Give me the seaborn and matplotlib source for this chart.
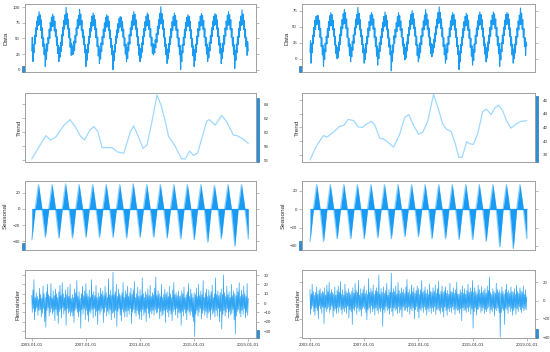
import numpy as np
import pandas as pd
import matplotlib
matplotlib.use("Agg")
import matplotlib.pyplot as plt
import matplotlib.transforms as mtransforms
from matplotlib.patches import Rectangle
import seaborn as sns

# ---- data (half-monthly samples, low/high sides alternate) ----
data_left_rows = [
    [30, 52, 13, 40, 27, 55, 41, 67, 53, 78, 64, 85, 71, 93, 72, 88, 63, 80, 50, 67, 37, 51, 24, 41],
    [5, 33, 16, 42, 30, 52, 42, 65, 50, 76, 62, 84, 69, 89, 70, 86, 62, 78, 53, 65, 39, 53, 26, 39],
    [13, 36, 20, 44, 29, 56, 39, 68, 54, 79, 65, 88, 72, 100, 73, 90, 65, 81, 51, 66, 36, 50, 23, 42],
    [24, 38, 25, 46, 31, 55, 43, 67, 55, 80, 66, 87, 71, 97, 72, 89, 63, 79, 52, 64, 40, 54, 27, 40],
    [5, 32, 15, 41, 27, 53, 41, 66, 52, 76, 62, 86, 70, 91, 71, 87, 64, 80, 51, 66, 37, 52, 22, 38],
    [10, 33, 17, 43, 29, 53, 40, 65, 51, 75, 61, 84, 68, 88, 69, 86, 63, 78, 50, 64, 36, 50, 24, 39],
    [0, 30, 14, 40, 28, 54, 42, 64, 51, 74, 60, 82, 67, 85, 69, 84, 62, 77, 52, 65, 38, 51, 25, 41],
    [13, 35, 18, 44, 30, 56, 41, 67, 54, 78, 64, 87, 71, 93, 72, 89, 65, 80, 53, 67, 39, 53, 23, 40],
    [13, 34, 19, 43, 28, 54, 40, 66, 53, 77, 63, 86, 70, 91, 71, 88, 64, 79, 52, 66, 38, 52, 26, 42],
    [24, 40, 27, 48, 35, 58, 44, 69, 56, 80, 66, 90, 73, 101, 74, 90, 65, 80, 52, 66, 37, 51, 24, 40],
    [10, 33, 17, 42, 28, 53, 40, 66, 52, 77, 63, 85, 70, 91, 71, 87, 63, 79, 51, 65, 37, 51, 24, 39],
    [0, 30, 13, 40, 27, 52, 39, 65, 51, 76, 62, 84, 69, 88, 70, 86, 62, 78, 50, 64, 36, 50, 22, 38],
    [5, 32, 15, 41, 28, 54, 41, 66, 53, 77, 63, 86, 70, 90, 71, 87, 64, 79, 52, 66, 38, 52, 25, 41],
    [13, 35, 19, 44, 30, 55, 42, 67, 53, 78, 64, 86, 71, 90, 72, 88, 65, 80, 53, 67, 39, 53, 26, 42],
    [10, 34, 18, 43, 29, 55, 41, 67, 54, 78, 64, 87, 71, 93, 72, 88, 64, 80, 52, 66, 38, 52, 24, 40],
    [2, 31, 15, 41, 27, 53, 40, 66, 52, 77, 63, 86, 71, 96, 72, 89, 64, 79, 51, 65, 37, 51, 23, 45],
]
data_left_last = 30

data_right_rows = [
    [10, 28, -7, 24, 9, 37, 23, 49, 35, 60, 46, 66, 53, 68, 54, 67, 45, 60, 33, 47, 19, 33, 6, 21],
    [-12, 15, -1, 24, 11, 35, 23, 47, 33, 58, 44, 67, 51, 72, 52, 69, 45, 60, 35, 47, 21, 35, 8, 21],
    [0, 18, 2, 26, 12, 38, 22, 50, 36, 61, 47, 70, 54, 77, 55, 72, 47, 62, 33, 48, 19, 32, 5, 23],
    [-5, 17, 3, 27, 13, 37, 24, 49, 37, 62, 48, 69, 53, 80, 54, 71, 45, 61, 34, 46, 22, 36, 9, 22],
    [-7, 15, -1, 24, 9, 35, 23, 48, 34, 58, 44, 68, 52, 72, 53, 69, 46, 62, 33, 48, 19, 34, 4, 20],
    [-10, 15, 0, 25, 11, 35, 22, 47, 33, 57, 43, 66, 50, 73, 51, 68, 45, 60, 32, 46, 18, 32, 6, 21],
    [-19, 12, -4, 22, 10, 36, 24, 46, 33, 56, 42, 66, 50, 72, 51, 67, 44, 59, 34, 47, 20, 33, 7, 23],
    [-2, 17, 1, 26, 12, 38, 23, 49, 36, 60, 46, 69, 53, 75, 54, 71, 47, 62, 35, 49, 21, 35, 5, 22],
    [-5, 16, 1, 25, 10, 36, 22, 48, 35, 59, 45, 68, 52, 77, 53, 70, 46, 61, 34, 48, 20, 34, 8, 24],
    [3, 22, 9, 30, 17, 40, 26, 51, 38, 62, 48, 72, 55, 81, 56, 72, 47, 62, 34, 48, 19, 33, 6, 22],
    [-7, 15, -1, 24, 10, 35, 22, 48, 34, 59, 45, 67, 52, 72, 53, 69, 45, 61, 33, 47, 19, 33, 6, 21],
    [-17, 12, -5, 22, 9, 34, 21, 47, 33, 58, 44, 66, 51, 71, 52, 68, 44, 60, 32, 46, 18, 32, 4, 20],
    [-10, 14, -3, 23, 10, 36, 23, 48, 35, 59, 45, 68, 52, 73, 53, 69, 46, 61, 34, 48, 20, 34, 7, 23],
    [-5, 17, 1, 26, 12, 37, 24, 49, 35, 60, 46, 68, 53, 73, 54, 70, 47, 62, 35, 49, 21, 35, 8, 24],
    [-12, 14, -2, 25, 11, 37, 23, 49, 36, 60, 46, 69, 53, 72, 54, 70, 46, 62, 34, 48, 20, 34, 6, 22],
    [-7, 15, 0, 23, 9, 35, 22, 48, 34, 59, 45, 68, 53, 79, 54, 71, 46, 61, 33, 47, 19, 33, 5, 26],
]
data_right_last = 20

rem_left_rows = [
    [8, -10, 14, -6, 25, -18, 6, -9, 11, -5, 7, -13, 4, -8, 16, -7, 9, -15, 5, -11, 18, -6, 10, -20],
    [6, -26, 12, -8, 20, -5, 9, -14, 7, -10, 21, -6, 5, -12, 13, -9, 8, -19, 15, -7, 10, -13, 6, -22],
    [12, -9, 19, -7, 8, -16, 22, -5, 10, -12, 6, -8, 14, -24, 9, -6, 17, -11, 7, -9, 20, -14, 5, -10],
    [9, -14, 6, -21, 15, -8, 11, -6, 24, -10, 7, -15, 12, -9, 5, -27, 10, -7, 18, -12, 8, -6, 13, -18],
    [21, -8, 10, -13, 7, -20, 14, -9, 6, -11, 25, -7, 9, -16, 12, -6, 8, -14, 19, -9, 6, -23, 11, -8],
    [7, -12, 16, -9, 10, -6, 13, -21, 8, -10, 18, -5, 11, -14, 6, -9, 26, -12, 9, -7, 14, -18, 8, -11],
    [33, -10, 9, -16, 12, -8, 20, -25, 7, -9, 15, -6, 10, -13, 8, -19, 11, -7, 22, -10, 6, -15, 13, -9],
    [10, -15, 18, -8, 7, -12, 11, -6, 16, -22, 9, -10, 14, -7, 23, -11, 6, -14, 10, -8, 17, -12, 7, -17],
    [14, -9, 8, -18, 27, -7, 10, -13, 6, -10, 12, -20, 9, -6, 15, -11, 8, -16, 19, -9, 7, -12, 11, -8],
    [9, -13, 16, -7, 28, -11, 8, -10, 13, -6, 10, -17, 7, -9, 20, -14, 6, -12, 9, -8, 15, -21, 10, -7],
    [12, -10, 7, -15, 18, -8, 10, -12, 6, -19, 14, -9, 22, -7, 9, -13, 11, -6, 8, -16, 13, -10, 7, -11],
    [8, -24, 13, -9, 10, -14, 17, -7, 6, -11, 9, -18, 12, -8, 21, -10, 7, -13, 15, -9, 10, -15, 6, -20],
    [11, -36, 9, -12, 16, -8, 7, -14, 20, -10, 8, -6, 13, -17, 9, -11, 24, -8, 6, -13, 11, -9, 15, -16],
    [7, -11, 14, -9, 8, -18, 12, -7, 19, -12, 6, -10, 10, -15, 27, -8, 9, -14, 13, -6, 8, -20, 11, -9],
    [15, -28, 9, -12, 30, -8, 11, -14, 7, -10, 18, -6, 9, -16, 12, -9, 6, -13, 20, -11, 8, -7, 13, -18],
    [10, -33, 8, -14, 16, -9, 12, -7, 22, -11, 7, -15, 14, -8, 9, -12, 18, -6, 10, -16, 7, -10, 21, -13],
]
rem_left_last = 5

rem_right_rows = [
    [12, -15, 7, -9, 18, -6, 10, -12, 6, -16, 9, -8, 15, -11, 7, -20, 11, -6, 13, -9, 8, -14, 10, -7],
    [9, -25, 14, -8, 6, -12, 17, -9, 10, -7, 20, -13, 8, -10, 12, -6, 9, -18, 7, -11, 15, -9, 6, -14],
    [11, -8, 16, -13, 9, -7, 21, -10, 7, -15, 12, -9, 6, -12, 18, -8, 10, -14, 8, -6, 13, -19, 9, -10],
    [7, -12, 10, -26, 14, -9, 8, -11, 19, -7, 11, -15, 9, -8, 22, -12, 6, -10, 13, -17, 8, -9, 12, -7],
    [16, -9, 8, -13, 11, -21, 7, -10, 24, -8, 9, -14, 13, -6, 10, -12, 17, -9, 7, -16, 11, -8, 14, -11],
    [10, -14, 28, -9, 7, -12, 13, -8, 9, -28, 15, -10, 8, -13, 11, -7, 19, -11, 6, -9, 12, -15, 9, -8],
    [30, -12, 9, -17, 13, -8, 10, -11, 16, -9, 7, -14, 20, -7, 11, -13, 8, -10, 14, -18, 9, -7, 12, -11],
    [8, -10, 15, -8, 23, -12, 9, -7, 12, -15, 7, -9, 17, -11, 10, -8, 14, -20, 8, -10, 11, -7, 16, -12],
    [13, -19, 7, -9, 12, -11, 22, -8, 9, -13, 11, -7, 15, -10, 8, -16, 12, -9, 7, -12, 18, -8, 10, -14],
    [9, -8, 14, -12, 10, -7, 17, -15, 8, -10, 13, -9, 21, -11, 7, -14, 10, -8, 16, -12, 9, -18, 11, -7],
    [15, -11, 8, -16, 11, -9, 7, -12, 19, -8, 10, -13, 9, -7, 14, -10, 8, -15, 12, -9, 20, -11, 7, -10],
    [7, -14, 12, -9, 9, -22, 16, -8, 8, -11, 13, -10, 7, -13, 11, -8, 18, -12, 9, -7, 14, -15, 10, -9],
    [22, -30, 9, -12, 14, -8, 10, -16, 7, -10, 17, -9, 12, -7, 8, -13, 15, -11, 9, -8, 11, -14, 13, -10],
    [8, -12, 16, -9, 11, -7, 26, -14, 9, -10, 7, -12, 13, -8, 10, -17, 8, -9, 19, -11, 12, -8, 9, -13],
    [11, -40, 8, -13, 15, -9, 10, -11, 7, -26, 12, -8, 18, -10, 9, -14, 11, -7, 8, -12, 15, -9, 10, -16],
    [9, -11, 13, -8, 7, -15, 17, -9, 10, -12, 8, -7, 14, -10, 11, -13, 9, -8, 16, -11, 7, -9, 12, -10],
]
rem_right_last = 4

# seasonal, quarterly (Jan, Apr, Jul, Oct)
seas_left = [-38, 0, 30, 0, -35, 0, 30, 0, -36, 0, 31, 0, -36, 0, 30, 0,
             -35, 0, 30, 0, -35, 0, 30, 0, -35, 0, 30, 0, -36, 0, 31, 0,
             -35, 0, 30, 0, -35, 0, 30, 0, -36, 0, 30, 0, -37, 0, 30, 0,
             -38, 0, 30, 0, -41, 0, 29, 0, -37, 0, 30, 0, -46, 0, 30, 0, -37]
seas_right = [-35, 0, 27, 0, -35, 0, 27, 0, -32, 0, 27, 0, -32, 0, 27, 0,
              -32, 0, 27, 0, -31, 0, 27, 0, -32, 0, 27, 0, -30, 0, 27, 0,
              -30, 0, 27, 0, -32, 0, 27, 0, -32, 0, 27, 0, -33, 0, 27, 0,
              -33, 0, 27, 0, -35, 0, 27, 0, -41, 0, 27, 0, -43, 0, 27, 0, -32]

# trend (decimal year, value)
trend_left_t = [2003.0, 2004.03, 2004.40, 2004.77, 2005.38, 2005.82, 2006.24, 2006.61, 2006.90,
                2007.29, 2007.59, 2007.88, 2008.20, 2008.94, 2009.31, 2009.80, 2010.29, 2010.53,
                2010.83, 2011.22, 2011.52, 2011.88, 2012.25, 2012.55, 2012.87, 2013.11, 2013.60,
                2013.85, 2014.09, 2014.34, 2014.66, 2014.95, 2015.25, 2015.64, 2015.93, 2016.13,
                2016.55, 2017.04, 2017.40, 2017.90, 2018.19, 2018.63, 2019.0]
trend_left_v = [56.2, 59.5, 58.9, 59.3, 61.0, 61.8, 60.7, 59.4, 58.9,
                60.3, 60.8, 60.1, 57.8, 57.8, 57.2, 57.0, 60.1, 60.9,
                59.6, 57.7, 58.2, 61.5, 65.3, 63.9, 61.5, 59.4, 58.0,
                57.0, 56.2, 56.2, 57.3, 56.7, 57.0, 59.6, 61.6, 61.8,
                61.0, 62.4, 61.5, 59.6, 59.5, 59.0, 58.4]
trend_right_t = [2003.0, 2003.49, 2003.98, 2004.27, 2004.72, 2005.21, 2005.50, 2005.82, 2006.24,
                 2006.55, 2006.87, 2007.17, 2007.53, 2007.78, 2008.15, 2008.44, 2008.88, 2009.18,
                 2009.62, 2009.99, 2010.30, 2010.60, 2011.01, 2011.33, 2011.70, 2012.12, 2012.44,
                 2012.80, 2013.05, 2013.42, 2013.74, 2013.98, 2014.23, 2014.57, 2014.76, 2015.06,
                 2015.38, 2015.75, 2016.04, 2016.36, 2016.65, 2016.92, 2017.22, 2017.51, 2017.83,
                 2018.20, 2018.56, 2019.0]
trend_right_v = [37.2, 39.3, 40.8, 40.6, 41.3, 42.2, 42.3, 43.2, 43.0,
                 42.1, 42.0, 42.5, 42.9, 42.4, 40.4, 40.3, 39.6, 39.1,
                 41.0, 43.5, 43.9, 42.5, 41.0, 41.3, 43.0, 46.9, 45.0,
                 42.5, 41.8, 41.4, 39.5, 37.6, 37.6, 39.9, 39.6, 39.5,
                 41.1, 44.4, 44.7, 43.9, 44.9, 45.3, 44.5, 43.0, 41.9,
                 42.5, 42.9, 43.0]

tick_dates = ["2003-01-01", "2007-01-01", "2011-01-01", "2015-01-01", "2019-01-01"]
panel_names = ["Data", "Trend", "Seasonal", "Remainder"]

# ---- styling ----
sns.set_theme(style="white")
plt.rcParams["font.family"] = ["Liberation Sans", "DejaVu Sans"]

BLUE = "#1a9bf3"
LIGHT = "#8fd2ff"
TREND = "#9fd8ff"
BAR = "#2b8ed8"
GREY = "#a0a0a0"
TXT = "#333333"

half_month = pd.date_range("2003-01-01", periods=385, freq="SMS")
quarters = pd.date_range("2003-01-01", periods=65, freq="QS")


def to_dates(t):
    t = np.asarray(t)
    return pd.Timestamp("2003-01-01") + pd.to_timedelta((t - 2003) * 365.25, unit="D")


def flat(rows, last):
    return np.concatenate([np.ravel(rows), [last]])


cols = [
    dict(data=flat(data_left_rows, data_left_last), rem=flat(rem_left_rows, rem_left_last),
         seas=seas_left, tt=trend_left_t, tv=trend_left_v,
         x0=25 / 550, w=231 / 550, pad=(183, 208),
         ylims=[(-3.7, 105.3), (55.75, 65.6), (-50.7, 34.4), (-37.5, 35.4)],
         yticks=[[0, 25, 50, 75, 100], [56, 58, 60, 62, 64], [-40, -20, 0, 20],
                 [-30, -20, -10, 0, 10, 20, 30]],
         labx=[-0.071, -0.015, -0.076, -0.019]),
    dict(data=flat(data_right_rows, data_right_last), rem=flat(rem_right_rows, rem_right_last),
         seas=seas_right, tt=trend_right_t, tv=trend_right_v,
         x0=302 / 550, w=233 / 550, pad=(215, 222),
         ylims=[(-20.8, 85.4), (36.9, 47.1), (-44.4, 30.9), (-40.8, 33.4)],
         yticks=[[0, 25, 50, 75], [38, 40, 42, 44, 46], [-40, -20, 0, 20], [-40, -20, 0, 20]],
         labx=[-0.054, -0.011, -0.071, -0.006]),
]

rows_px = [(4, 72), (93, 162), (181, 250), (270, 338)]

fig = plt.figure(figsize=(5.5, 3.52), dpi=100)

for c in cols:
    trend_range = max(c["tv"]) - min(c["tv"])
    for r, (top, bot) in enumerate(rows_px):
        ax = fig.add_axes([c["x0"], 1 - bot / 352, c["w"], (bot - top) / 352])
        if r == 0:
            sns.lineplot(x=half_month, y=c["data"], ax=ax, color=BLUE, lw=0.8)
        elif r == 1:
            sns.lineplot(x=to_dates(c["tt"]), y=c["tv"], ax=ax, color=TREND, lw=0.9)
        elif r == 2:
            ax.plot(quarters, c["seas"], color=LIGHT, lw=0.9, zorder=2)
            ax.fill_between(quarters, 0, c["seas"], color=BLUE, lw=0, zorder=3)
            ax.hlines(0, quarters[0], quarters[-1], color=BLUE, lw=0.9, zorder=3)
        else:
            sns.lineplot(x=half_month, y=c["rem"], ax=ax, color=BLUE, lw=0.5, alpha=0.9)

        ax.set_xlim(pd.Timestamp("2003-01-01") - pd.Timedelta(days=c["pad"][0]),
                    pd.Timestamp("2019-01-01") + pd.Timedelta(days=c["pad"][1]))
        ax.set_ylim(*c["ylims"][r])
        ax.set_yticks(c["yticks"][r])
        side = "left" if r in (0, 2) else "right"
        ax.tick_params(axis="y", left=True, right=True, length=2, width=0.5, color=GREY,
                       labelleft=(side == "left"), labelright=(side == "right"),
                       labelsize=3.2, labelcolor=TXT, pad=1.5 if side == "left" else 3.5)
        ax.set_ylabel(panel_names[r], fontsize=4.6, color=TXT)
        ax.yaxis.set_label_coords(c["labx"][r], 0.5)
        if r == 3:
            ax.set_xticks(pd.to_datetime(tick_dates))
            ax.set_xticklabels(tick_dates)
            ax.tick_params(axis="x", bottom=True, length=2, width=0.5, color=GREY,
                           labelsize=3.2, labelcolor=TXT, pad=1.5)
        else:
            ax.set_xticks([])
        ax.set_xlabel("")
        for s in ax.spines.values():
            s.set_color(GREY)
            s.set_linewidth(0.7)

        # range bar (same data height in every panel)
        trans = mtransforms.blended_transform_factory(ax.transAxes, ax.transData)
        bx = -0.013 if side == "left" else 1.002
        ax.add_patch(Rectangle((bx, c["ylims"][r][0]), 0.011, trend_range, transform=trans,
                               facecolor=BAR, edgecolor="#1565a8", lw=0.4, clip_on=False))

fig.savefig("out.png", dpi=100)
